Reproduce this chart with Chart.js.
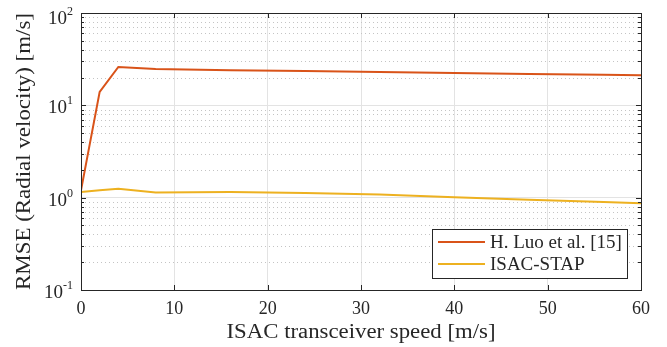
<!DOCTYPE html>
<html>
<head>
<meta charset="utf-8">
<script src="https://cdn.jsdelivr.net/npm/chart.js@4.4.1/dist/chart.umd.min.js"></script>
<style>
  html, body { margin: 0; padding: 0; background: #fff; }
</style>
</head>
<body>
<canvas id="chart" width="667" height="347"></canvas>
<script>
// --- data ---
const speeds   = [0, 2, 4, 8, 16, 24, 32, 40, 48, 56, 60];
const luoRmse  = [1.2, 14.0, 26.0, 24.7, 24.0, 23.5, 23.0, 22.4, 21.9, 21.5, 21.2];
const stapRmse = [1.15, 1.2, 1.25, 1.14, 1.15, 1.12, 1.08, 1.01, 0.95, 0.9, 0.87];

const seriesNames  = ['H. Luo et al. [15]', 'ISAC-STAP'];
const seriesColors = ['#D95319', '#EDB120'];

const xTicks     = [0, 10, 20, 30, 40, 50, 60];
const yDecades   = [0.1, 1, 10, 100];
const yExponents = ['-1', '0', '1', '2'];

const xTitle = 'ISAC transceiver speed [m/s]';
const yTitle = 'RMSE (Radial velocity) [m/s]';

const FONT = '"Liberation Serif", "Times New Roman", serif';
const INK = '#262626';
const GRID = '#e3e3e3';

const toPoints = (xs, ys) => xs.map((x, i) => ({ x, y: ys[i] }));

// minor ticks between decades (2..9)
const yMinor = [];
yDecades.slice(0, -1).forEach(d => {
    for (let k = 2; k <= 9; k++) yMinor.push(d * k);
});

// draw text centred at (cx, cy), stretched sideways to a given width (CM is wider than Times)
function wideText(ctx, text, cx, cy, width) {
    ctx.save();
    const w = ctx.measureText(text).width;
    ctx.translate(cx, cy);
    ctx.scale(width / w, 1);
    ctx.textAlign = 'center';
    ctx.textBaseline = 'middle';
    ctx.fillText(text, 0, 0);
    ctx.restore();
}

// MATLAB-ish axes: dotted minor grid, box, inward ticks, 10^n labels, titles, legend
const matlabAxes = {
    id: 'matlabAxes',
    beforeDatasetsDraw(chart) {
        const { ctx, chartArea: a, scales: { y } } = chart;
        ctx.save();
        ctx.strokeStyle = '#c4c4c4';
        ctx.lineWidth = 1;
        ctx.setLineDash([1, 3]);
        yMinor.forEach(v => {
            const py = Math.round(y.getPixelForValue(v)) + 0.5;
            ctx.beginPath();
            ctx.moveTo(a.left, py);
            ctx.lineTo(a.right, py);
            ctx.stroke();
        });
        ctx.restore();
    },
    afterDatasetsDraw(chart) {
        const { ctx, chartArea: a, scales: { x, y } } = chart;
        ctx.save();
        ctx.strokeStyle = INK;
        ctx.lineWidth = 1;
        ctx.setLineDash([]);

        // ticks inward
        ctx.beginPath();
        xTicks.forEach(v => {
            const px = Math.round(x.getPixelForValue(v)) + 0.5;
            ctx.moveTo(px, a.bottom); ctx.lineTo(px, a.bottom - 5);
            ctx.moveTo(px, a.top); ctx.lineTo(px, a.top + 5);
        });
        yDecades.forEach(v => {
            const py = Math.round(y.getPixelForValue(v)) + 0.5;
            ctx.moveTo(a.left, py); ctx.lineTo(a.left + 5, py);
            ctx.moveTo(a.right, py); ctx.lineTo(a.right - 5, py);
        });
        yMinor.forEach(v => {
            const py = Math.round(y.getPixelForValue(v)) + 0.5;
            ctx.moveTo(a.left, py); ctx.lineTo(a.left + 3, py);
            ctx.moveTo(a.right, py); ctx.lineTo(a.right - 3, py);
        });
        ctx.stroke();

        // box
        ctx.strokeRect(Math.round(a.left) + 0.5, Math.round(a.top) + 0.5,
            Math.round(a.right - a.left), Math.round(a.bottom - a.top));

        // y tick labels 10^n
        ctx.fillStyle = INK;
        ctx.textBaseline = 'alphabetic';
        ctx.textAlign = 'right';
        yDecades.forEach((v, i) => {
            const base = Math.max(y.getPixelForValue(v) + 8, 24);
            ctx.font = `12px ${FONT}`;
            const ew = ctx.measureText(yExponents[i]).width;
            ctx.fillText(yExponents[i], 73, base - 9);
            ctx.font = `19px ${FONT}`;
            ctx.fillText('10', 73 - ew, base);
        });

        // axis titles
        ctx.font = `20px ${FONT}`;
        wideText(ctx, xTitle, (a.left + a.right) / 2, 333, 269);
        ctx.save();
        ctx.translate(25, (a.top + a.bottom) / 2);
        ctx.rotate(-Math.PI / 2);
        wideText(ctx, yTitle, 0, 0, 277);
        ctx.restore();
        ctx.restore();

        // legend
        ctx.save();
        const lx = 432, ly = 229, lw = 195, lh = 49;
        ctx.fillStyle = '#fff';
        ctx.fillRect(lx, ly, lw, lh);
        ctx.strokeStyle = INK;
        ctx.lineWidth = 1;
        ctx.strokeRect(lx + 0.5, ly + 0.5, lw, lh);
        chart.data.datasets.forEach((ds, i) => {
            const cy = ly + 13 + i * 22;
            ctx.strokeStyle = ds.borderColor;
            ctx.lineWidth = 2;
            ctx.beginPath();
            ctx.moveTo(lx + 6, cy);
            ctx.lineTo(lx + 53, cy);
            ctx.stroke();
            ctx.fillStyle = INK;
            ctx.font = `19px ${FONT}`;
            ctx.textAlign = 'left';
            ctx.textBaseline = 'middle';
            ctx.fillText(ds.label, lx + 58, cy + 1);
        });
        ctx.restore();
    }
};

new Chart(document.getElementById('chart'), {
    type: 'line',
    data: {
        datasets: [
            { label: seriesNames[0], data: toPoints(speeds, luoRmse) },
            { label: seriesNames[1], data: toPoints(speeds, stapRmse) }
        ].map((d, i) => ({
            ...d,
            borderColor: seriesColors[i],
            backgroundColor: seriesColors[i],
            borderWidth: 2,
            pointRadius: 0,
            tension: 0,
            fill: false
        }))
    },
    options: {
        responsive: false,
        devicePixelRatio: 1,
        animation: false,
        layout: { padding: { top: 13, right: 26, left: 0, bottom: 0 } },
        plugins: { legend: { display: false }, tooltip: { enabled: false } },
        scales: {
            x: {
                type: 'linear',
                min: 0,
                max: 60,
                afterBuildTicks: s => { s.ticks = xTicks.map(v => ({ value: v })); },
                afterFit: s => { s.height = 57; },
                grid: { color: GRID, drawTicks: false },
                border: { display: false },
                ticks: { color: INK, font: { family: FONT, size: 18 }, padding: 8, maxRotation: 0 },
                title: { display: false }
            },
            y: {
                type: 'logarithmic',
                min: 0.1,
                max: 100,
                afterBuildTicks: s => { s.ticks = yDecades.map(v => ({ value: v, major: true })); },
                afterFit: s => { s.width = 81; },
                grid: { color: GRID, drawTicks: false },
                border: { display: false },
                ticks: { display: false }
            }
        }
    },
    plugins: [matlabAxes]
});
</script>
</body>
</html>
